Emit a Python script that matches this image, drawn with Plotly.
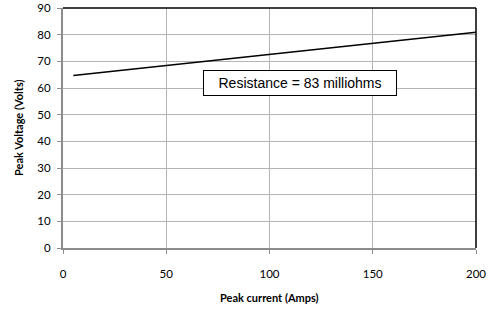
import plotly.graph_objects as go

current = [5, 50, 100, 150, 200]
voltage = [64.7, 68.5, 72.6, 76.7, 80.9]
x_ticks = [0, 50, 100, 150, 200]
y_ticks = [0, 10, 20, 30, 40, 50, 60, 70, 80, 90]
label = "Resistance = 83 milliohms"
x_title = "Peak current (Amps)"
y_title = "Peak Voltage (Volts)"

fig = go.Figure()
fig.add_trace(go.Scatter(x=current, y=voltage, mode="lines",
                         line=dict(color="black", width=1.5), showlegend=False))

fig.add_annotation(x=114.8, y=61.7, xref="x", yref="y", text=label, showarrow=False,
                   font=dict(family="Liberation Sans, Arial", size=14, color="black"),
                   bordercolor="black", borderwidth=1, bgcolor="white",
                   borderpad=4, width=184, height=16)

title_font = dict(family="Lato, Open Sans, sans-serif", size=11, color="black")
fig.add_annotation(x=0.5, y=-49 / 240, xref="paper", yref="paper", text="<b>" + x_title + "</b>",
                   showarrow=False, font=title_font, xanchor="center", yanchor="middle")
fig.add_annotation(x=-45 / 413, y=0.5, xref="paper", yref="paper", text="<b>" + y_title + "</b>",
                   showarrow=False, font=title_font, textangle=-90, xanchor="center", yanchor="middle")

fig.add_shape(type="line", xref="paper", yref="paper", x0=0, x1=1, y0=1, y1=1,
              line=dict(color="black", width=1.5))
fig.add_shape(type="line", xref="paper", yref="paper", x0=1, x1=1, y0=0, y1=1,
              line=dict(color="black", width=1.5))

axis_font = dict(family="Lato, Open Sans, sans-serif", size=11.5, color="black")
fig.update_layout(
    width=490, height=310,
    margin=dict(l=63, r=14, t=8, b=62),
    paper_bgcolor="white", plot_bgcolor="white",
    xaxis=dict(range=[0, 200], tickvals=x_ticks, showgrid=True, gridcolor="#b4b4b4",
               gridwidth=1, showline=True, linecolor="#8c8c8c", linewidth=2,
               ticks="outside", ticklen=4, tickcolor="#8c8c8c", tickfont=axis_font,
               ticklabelstandoff=10, zeroline=False, automargin=False),
    yaxis=dict(range=[0, 90], tickvals=y_ticks, showgrid=True, gridcolor="#b4b4b4",
               gridwidth=1, showline=True, linecolor="#8c8c8c", linewidth=2,
               ticks="outside", ticklen=4, tickcolor="#8c8c8c", tickfont=axis_font,
               ticklabelstandoff=4, zeroline=False, automargin=False),
)

fig.write_html("out.html", config={"displayModeBar": False},
               post_script="document.body.style.margin='0';")
